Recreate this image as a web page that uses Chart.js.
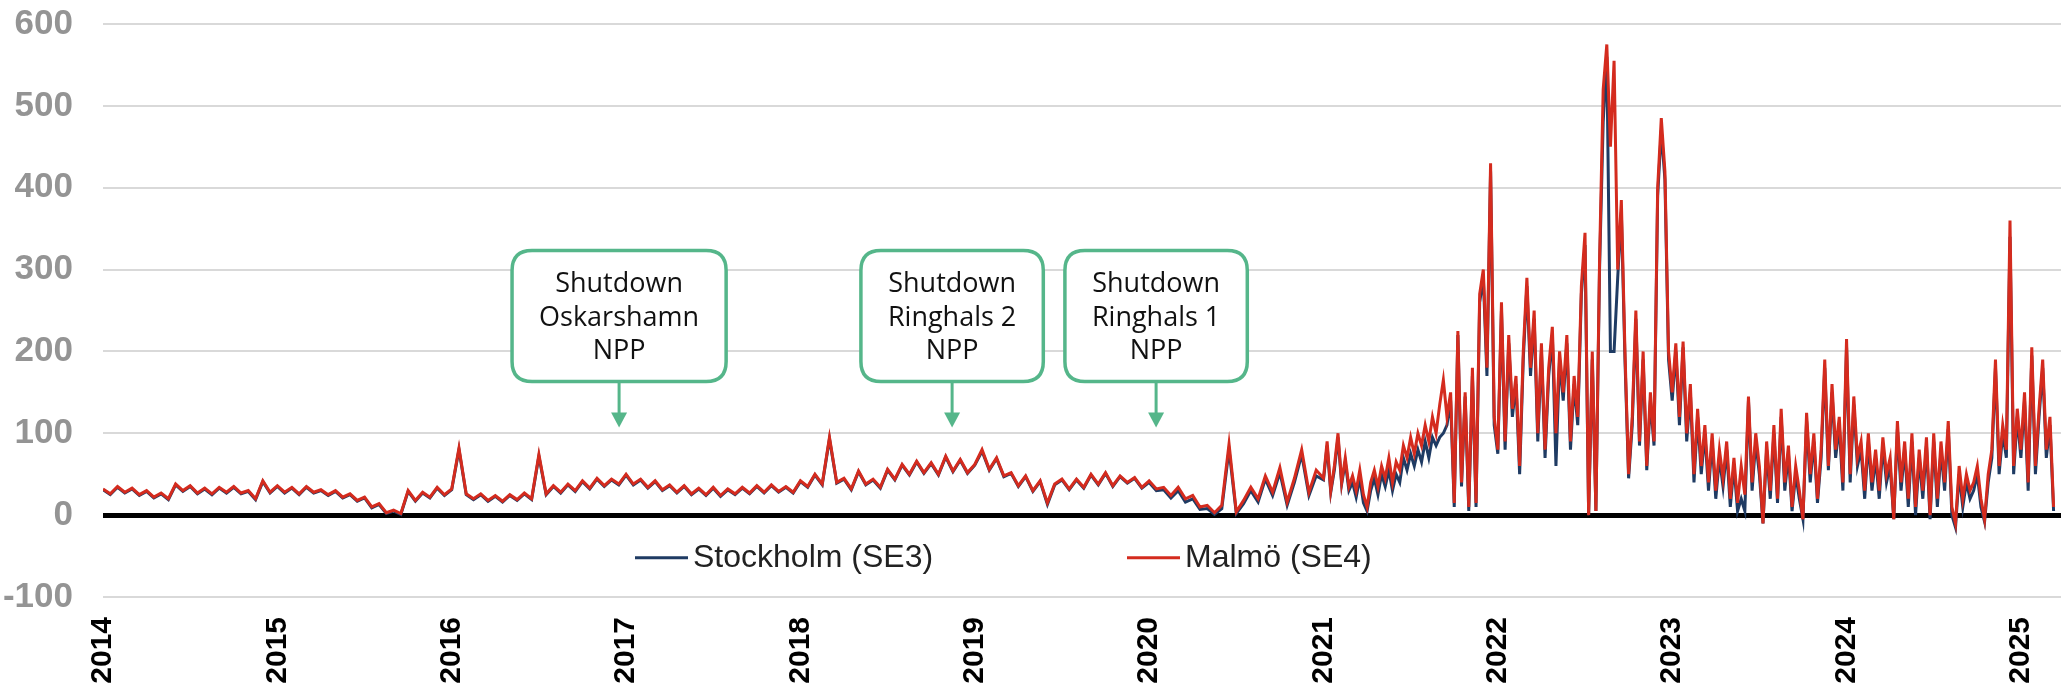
<!DOCTYPE html>
<html>
<head>
<meta charset="utf-8">
<title>SE3 / SE4 spot prices</title>
<script src="https://cdn.jsdelivr.net/npm/chart.js@4.4.1/dist/chart.umd.min.js"></script>
<style>
  html, body { margin: 0; padding: 0; background: #fff; }
  #wrap { width: 2061px; height: 690px; }
</style>
</head>
<body>
<div id="wrap"><canvas id="priceChart" width="2061" height="690"></canvas></div>
<script>
var years = [2014, 2015, 2016, 2017, 2018, 2019, 2020, 2021, 2022, 2023, 2024, 2025];
var seriesNames = ['Stockholm (SE3)', 'Malmö (SE4)'];

// 2014-2020: two readings per month
var earlyStart = 2014, earlyPerYear = 24;
var se4Early = [
  32, 26, 35, 28, 33, 25, 30, 22, 27, 20, 38, 30, 36, 27, 33, 26, 34, 28, 35, 27, 30, 20, 42, 28,
  36, 28, 34, 26, 35, 28, 31, 25, 30, 22, 26, 18, 22, 10, 14, 3, 6, 2, 30, 18, 28, 22, 34, 25,
  32, 82, 26, 20, 26, 18, 24, 17, 25, 19, 27, 20, 74, 26, 36, 28, 38, 30, 42, 33, 45, 36, 44, 38,
  50, 38, 44, 34, 42, 31, 37, 28, 36, 26, 33, 25, 34, 24, 32, 26, 34, 27, 36, 28, 37, 29, 35, 28,
  42, 35, 50, 38, 95, 40, 45, 32, 54, 38, 44, 34, 56, 44, 62, 50, 66, 52, 64, 50, 72, 54, 68, 52,
  62, 80, 56, 70, 48, 52, 36, 48, 30, 42, 15, 38, 44, 32, 44, 34, 50, 38, 52, 36, 48, 40, 46, 34,
  42, 32, 34, 24, 34, 20, 24, 10, 12, 3, 12, 87, 4, 18, 34, 20, 48, 28, 58, 16, 45, 80, 28, 55
];
var se3Early = [
  31, 25, 34, 27, 32, 24, 29, 21, 26, 19, 37, 29, 35, 26, 32, 25, 33, 27, 34, 26, 29, 19, 41, 27,
  35, 27, 33, 25, 34, 27, 30, 24, 29, 21, 25, 17, 21, 9, 13, 2, 5, 1, 29, 17, 27, 21, 33, 24,
  31, 80, 25, 19, 25, 17, 23, 16, 24, 18, 26, 19, 72, 25, 35, 27, 37, 29, 41, 32, 44, 35, 43, 37,
  49, 37, 43, 33, 41, 30, 36, 27, 35, 25, 32, 24, 33, 23, 31, 25, 33, 26, 35, 27, 36, 28, 34, 27,
  41, 34, 49, 37, 93, 39, 44, 31, 53, 37, 43, 33, 55, 43, 61, 49, 65, 51, 63, 49, 71, 53, 67, 51,
  61, 78, 55, 69, 47, 51, 35, 47, 29, 41, 13, 37, 43, 31, 43, 33, 49, 37, 51, 35, 47, 39, 45, 33,
  40, 30, 31, 21, 30, 16, 20, 7, 8, 1, 8, 80, 2, 14, 30, 16, 44, 24, 52, 12, 40, 74, 24, 48
];

// 2021 onwards: four readings per month
var lateStart = 2021, latePerYear = 48;
var se4Late = [
  45, 90, 30, 60, 100, 40, 70, 35, 48, 30, 55, 25, 10, 40, 55, 35, 60, 45, 70, 40,
  65, 55, 85, 70, 95, 75, 100, 85, 110, 90, 120, 100, 135, 165, 120, 150,
  15, 225, 40, 150, 10, 180, 15, 270, 300, 180, 430, 120,
  80, 260, 90, 220, 130, 170, 60, 200, 290, 180, 250, 100, 210, 80, 180, 230, 100, 200, 150, 220, 90, 170, 120, 280,
  345, 0, 200, 5, 310, 520, 575, 450, 555, 300, 385, 200, 50, 120, 250, 90, 200, 60, 150, 90, 400, 485, 420, 200,
  150, 210, 120, 212, 100, 160, 50, 130, 60, 110, 40, 100, 30, 80, 45, 90, 20, 70, 15, 60,
  25, 145, 40, 100, 60, -10, 90, 30, 110, 20, 130, 40, 85, 10, 60, 30, -5, 125, 50, 100,
  20, 80, 190, 60, 160, 80, 120, 40,
  215, 50, 145, 70, 90, 30, 100, 40, 80, 30, 95, 50, 70, -5, 115, 40, 90, 20, 100, 10,
  80, 30, 95, 0, 100, 20, 90, 40, 115, 10, -10, 60, 20, 50, 30, 40, 60, 20, -5, 50,
  80, 190, 60, 110, 80, 360, 60, 130, 80, 150, 40, 205, 60, 130, 190, 80, 120, 10
];
var se3Late = [
  43, 85, 28, 55, 95, 38, 65, 30, 40, 22, 45, 15, 5, 30, 45, 25, 50, 35, 55, 30,
  50, 40, 70, 55, 75, 60, 80, 65, 90, 70, 95, 85, 95, 100, 110, 140,
  10, 220, 35, 145, 5, 170, 10, 260, 290, 170, 420, 110,
  75, 250, 80, 210, 120, 160, 50, 190, 280, 170, 240, 90, 200, 70, 170, 220, 60, 190, 140, 210, 80, 160, 110, 270,
  330, 0, 190, 5, 300, 480, 560, 200, 200, 290, 370, 190, 45, 110, 240, 85, 190, 55, 140, 85, 390, 470, 410, 190,
  140, 200, 110, 205, 90, 150, 40, 120, 50, 100, 30, 90, 20, 70, 35, 80, 10, 60, 5, 20,
  5, 140, 30, 90, 50, -10, 80, 20, 100, 15, 120, 30, 75, 5, 50, 20, -5, 115, 40, 90,
  15, 70, 180, 55, 150, 70, 110, 30,
  205, 40, 135, 60, 80, 20, 90, 30, 70, 20, 85, 40, 60, -5, 105, 30, 80, 10, 90, 0,
  70, 20, 85, -5, 90, 10, 80, 30, 105, 0, -15, 50, 10, 40, 20, 30, 50, 10, -8, 40,
  70, 180, 50, 100, 70, 340, 50, 120, 70, 140, 30, 195, 50, 120, 180, 70, 110, 5
];

var noteTexts = [
  ['Shutdown', 'Oskarshamn', 'NPP'],
  ['Shutdown', 'Ringhals 2', 'NPP'],
  ['Shutdown', 'Ringhals 1', 'NPP']
];
var noteYears = [2016.96, 2018.87, 2020.04];

function toPoints(early, late) {
  var pts = [];
  early.forEach(function (v, i) { pts.push({ x: earlyStart + i / earlyPerYear, y: v }); });
  late.forEach(function (v, i) { pts.push({ x: lateStart + i / latePerYear, y: v }); });
  return pts;
}

function roundRect(ctx, x, y, w, h, r) {
  ctx.beginPath();
  ctx.moveTo(x + r, y);
  ctx.lineTo(x + w - r, y);
  ctx.quadraticCurveTo(x + w, y, x + w, y + r);
  ctx.lineTo(x + w, y + h - r);
  ctx.quadraticCurveTo(x + w, y + h, x + w - r, y + h);
  ctx.lineTo(x + r, y + h);
  ctx.quadraticCurveTo(x, y + h, x, y + h - r);
  ctx.lineTo(x, y + r);
  ctx.quadraticCurveTo(x, y, x + r, y);
  ctx.closePath();
}

var extras = {
  id: 'extras',
  afterDraw: function (chart) {
    var ctx = chart.ctx;
    var xs = chart.scales.x, ys = chart.scales.y;
    var green = '#55b68a';

    // callouts
    ctx.save();
    ctx.font = '27px "Open Sans", sans-serif';
    noteTexts.forEach(function (lines, i) {
      var cx = xs.getPixelForValue(noteYears[i]);
      var tip = ys.getPixelForValue(107);
      var bottom = tip - 46, h = 131, top = bottom - h;
      var w = Math.max.apply(null, lines.map(function (l) { return ctx.measureText(l).width; })) + 54;
      roundRect(ctx, cx - w / 2, top, w, h, 20);
      ctx.fillStyle = '#fff';
      ctx.fill();
      ctx.lineWidth = 3.5;
      ctx.strokeStyle = green;
      ctx.stroke();
      ctx.beginPath();
      ctx.moveTo(cx, bottom);
      ctx.lineTo(cx, tip - 12);
      ctx.lineWidth = 3;
      ctx.stroke();
      ctx.beginPath();
      ctx.moveTo(cx - 8, tip - 15);
      ctx.lineTo(cx + 8, tip - 15);
      ctx.lineTo(cx, tip);
      ctx.closePath();
      ctx.fillStyle = green;
      ctx.fill();
      ctx.fillStyle = '#111';
      ctx.textAlign = 'center';
      ctx.textBaseline = 'middle';
      lines.forEach(function (l, k) { ctx.fillText(l, cx, top + 34 + k * 33.5); });
    });
    ctx.restore();

    // legend inside the plot, below the zero line
    ctx.save();
    var ly = ys.getPixelForValue(-52);
    var lx = [635, 1127];
    ctx.font = '32px "Liberation Sans", Arial, sans-serif';
    ctx.textBaseline = 'middle';
    ctx.textAlign = 'left';
    chart.data.datasets.forEach(function (ds, i) {
      ctx.beginPath();
      ctx.moveTo(lx[i], ly);
      ctx.lineTo(lx[i] + 53, ly);
      ctx.lineWidth = 3;
      ctx.strokeStyle = ds.borderColor;
      ctx.stroke();
      ctx.fillStyle = '#222';
      ctx.fillText(ds.label, lx[i] + 58, ly);
    });
    ctx.restore();
  }
};

new Chart(document.getElementById('priceChart'), {
  type: 'line',
  data: {
    datasets: [{
      label: seriesNames[0],
      data: toPoints(se3Early, se3Late),
      borderColor: '#1f3b63',
      borderWidth: 3,
      pointRadius: 0,
      tension: 0,
      order: 2
    }, {
      label: seriesNames[1],
      data: toPoints(se4Early, se4Late),
      borderColor: '#d42b1e',
      borderWidth: 3,
      pointRadius: 0,
      tension: 0,
      order: 1
    }]
  },
  options: {
    responsive: false,
    animation: false,
    layout: { padding: { top: 24, right: 0, left: 0, bottom: 0 } },
    plugins: {
      legend: { display: false },
      tooltip: { enabled: false }
    },
    scales: {
      x: {
        type: 'linear',
        min: 2014,
        max: 2025.23,
        afterBuildTicks: function (scale) {
          scale.ticks = years.map(function (v) { return { value: v }; });
        },
        afterFit: function (scale) {
          scale.height = 93;
          scale.paddingLeft = 0;
          scale.paddingRight = 0;
        },
        grid: { display: false, drawTicks: false },
        border: { display: false },
        ticks: {
          autoSkip: false,
          minRotation: 90,
          maxRotation: 90,
          padding: 20,
          color: '#000',
          font: { family: '"Liberation Sans", Arial, sans-serif', size: 30, weight: 'bold' },
          callback: function (v) { return String(v); }
        }
      },
      y: {
        min: -100,
        max: 600,
        afterFit: function (scale) {
          scale.width = 103;
          scale.paddingTop = 0;
          scale.paddingBottom = 0;
        },
        border: { display: false },
        grid: {
          drawTicks: false,
          color: function (c) { return c.tick && c.tick.value === 0 ? '#000' : '#d9d9d9'; },
          lineWidth: function (c) { return c.tick && c.tick.value === 0 ? 5 : 2; }
        },
        ticks: {
          stepSize: 100,
          padding: 30,
          color: '#949494',
          font: { family: '"Liberation Sans", Arial, sans-serif', size: 35, weight: 'bold' }
        }
      }
    }
  },
  plugins: [extras]
});
</script>
</body>
</html>
